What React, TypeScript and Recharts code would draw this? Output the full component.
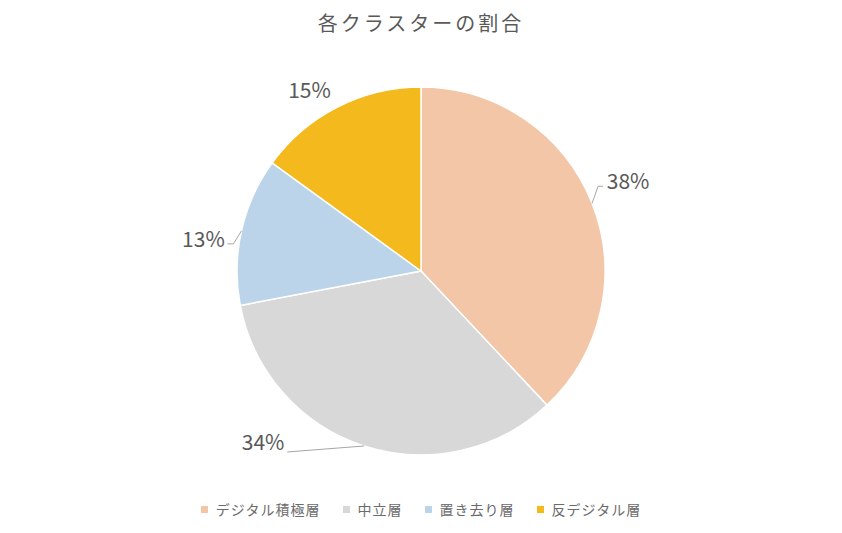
import React from "react";
import { PieChart, Pie, Cell, Legend } from "recharts";

const categories = ["デジタル積極層", "中立層", "置き去り層", "反デジタル層"];
const shares = [38, 34, 13, 15];
const colors = ["#F2C6A7", "#D9D8D8", "#BCD4EA", "#F4B91C"];
const title = "各クラスターの割合";

const data = categories.map((name, i) => ({ name, value: shares[i] }));

// label layout relative to the slice's outer edge point (dx, dy of text center), and leader path
const labelLayout = [
  { dx: 36, dy: -23, path: [[0, 0], [6, -17], [11, -17]] },
  { dx: -101, dy: -5, path: [[0, 0], [-77, 6]] },
  { dx: -38, dy: 7, path: [[0, 0], [-8, 13], [-14, 13]] },
  { dx: -28, dy: -18, path: [] as number[][] },
];

const FONT = "'Noto Sans CJK JP', 'Noto Sans', sans-serif";
const TEXT = "#595959";

const RADIAN = Math.PI / 180;

const renderLabel = (props: any) => {
  const { cx, cy, midAngle, outerRadius, index, value } = props;
  const ex = cx + outerRadius * Math.cos(-midAngle * RADIAN);
  const ey = cy + outerRadius * Math.sin(-midAngle * RADIAN);
  const l = labelLayout[index];
  const pts = l.path.map(([x, y]) => `${ex + x},${ey + y}`).join(" ");
  return (
    <g key={`lbl-${index}`}>
      {l.path.length > 1 && (
        <polyline points={pts} fill="none" stroke="#A6A6A6" strokeWidth={1} />
      )}
      <text
        x={ex + l.dx}
        y={ey + l.dy}
        textAnchor="middle"
        dominantBaseline="central"
        fill={TEXT}
        fontSize={21}
        fontFamily={FONT}
      >
        {`${value}%`}
      </text>
    </g>
  );
};

const renderLegend = () => {
  return (
    <div
      style={{
        display: "flex",
        justifyContent: "center",
        alignItems: "center",
        fontFamily: FONT,
        fontSize: 14,
        color: "#6b6b6b",
        letterSpacing: 1,
      }}
    >
      {data.map((d, i) => (
        <div key={d.name} style={{ display: "flex", alignItems: "center", marginLeft: i === 0 ? 0 : 22 }}>
          <span
            style={{
              display: "inline-block",
              width: 7,
              height: 7,
              background: colors[i],
              marginRight: 8,
            }}
          />
          <span>{d.name}</span>
        </div>
      ))}
    </div>
  );
};

export default function App() {
  return (
    <div
      style={{
        position: "absolute",
        left: 0,
        top: 0,
        width: 842,
        height: 533,
        background: "#fff",
      }}
    >
      <div
        style={{
          position: "absolute",
          top: 8,
          left: 0,
          width: 842,
          textAlign: "center",
          fontFamily: FONT,
          fontSize: 20,
          letterSpacing: 3,
          color: TEXT,
        }}
      >
        {title}
      </div>
      <PieChart width={842} height={533} margin={{ top: 0, right: 0, bottom: 0, left: 0 }}>
        <Pie
          data={data}
          dataKey="value"
          nameKey="name"
          cx={421}
          cy={271}
          outerRadius={184}
          startAngle={90}
          endAngle={-270}
          stroke="#FFFFFF"
          strokeWidth={1.5}
          label={renderLabel}
          labelLine={false}
          isAnimationActive={false}
        >
          {data.map((d, i) => (
            <Cell key={d.name} fill={colors[i]} />
          ))}
        </Pie>
        <Legend
          verticalAlign="bottom"
          content={renderLegend}
          wrapperStyle={{ bottom: 14, left: 0, width: 842 }}
        />
      </PieChart>
    </div>
  );
}
